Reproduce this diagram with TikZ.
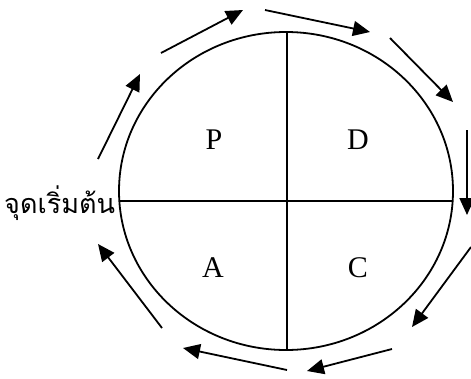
\documentclass[tikz,border=0pt]{standalone}
\usepackage{fontspec}
\setmainfont{Liberation Serif}
\newfontfamily\thaifont[Script=Thai]{Loma}
\usetikzlibrary{arrows.meta}

\begin{document}
\begin{tikzpicture}[x=1pt,y=-1pt,
  line width=1.8pt,
  phase/.style={font=\fontsize{30}{35}\selectfont, inner sep=0pt},
  start/.style={font=\thaifont\fontsize{27}{32}\selectfont, inner sep=0pt, anchor=base east},
  arr/.style={-{Triangle[length=17pt, width=15pt]}, line width=1.8pt}
]
\useasboundingbox (0,0) rectangle (471,378);
% circle split in four
\draw (286,191) ellipse [x radius=167, y radius=159];
\draw (286.7,32) -- (286.7,350);
\draw (119.3,201) -- (452.7,201);
\node[phase] (p) at (214,140) {P};
\node[phase] (d) at (358,140) {D};
\node[phase] (a) at (213,268) {A};
\node[phase] (c) at (358,268) {C};
\node[start] (st) at (116,213) {จุดเริ่มต้น};
% arrows around the circle
\coordinate (s1) at (98,159);   \coordinate (e1) at (140,74);
\coordinate (s2) at (161,53);   \coordinate (e2) at (243,10);
\coordinate (s3) at (265,10);   \coordinate (e3) at (370,32);
\coordinate (s4) at (390,38);   \coordinate (e4) at (453,102);
\coordinate (s5) at (467,130);  \coordinate (e5) at (467,215);
\coordinate (s6) at (471,247);  \coordinate (e6) at (412,327);
\coordinate (s7) at (392,349);  \coordinate (e7) at (307,371);
\coordinate (s8) at (287,370);  \coordinate (e8) at (183,348);
\coordinate (s9) at (162,328);  \coordinate (e9) at (98,244);
\draw[arr] (s1) -- (e1);
\draw[arr] (s2) -- (e2);
\draw[arr] (s3) -- (e3);
\draw[arr] (s4) -- (e4);
\draw[arr] (s5) -- (e5);
\draw[arr] (s6) -- (e6);
\draw[arr] (s7) -- (e7);
\draw[arr] (s8) -- (e8);
\draw[arr] (s9) -- (e9);
\end{tikzpicture}
\end{document}
